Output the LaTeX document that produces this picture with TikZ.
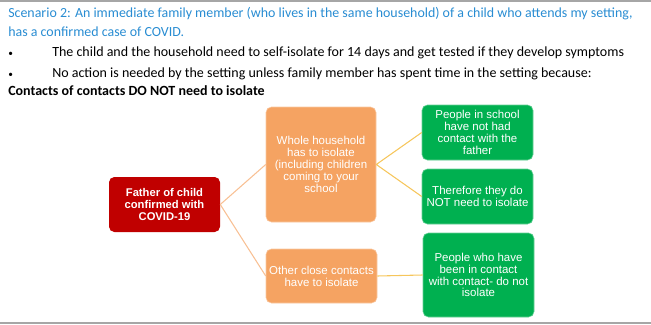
\documentclass[tikz,border=0pt]{standalone}
\usepackage{fontspec}
\setmainfont{Carlito}
\newfontfamily\boxfont{Liberation Sans}
\definecolor{headblue}{RGB}{40,140,210}
\definecolor{boxred}{RGB}{192,0,0}
\definecolor{boxorange}{RGB}{245,163,98}
\definecolor{boxgreen}{RGB}{0,176,80}
\definecolor{linkorange}{RGB}{248,192,148}
\definecolor{linkgold}{RGB}{246,198,92}
\tikzset{
  card/.style={rounded corners=4pt, text=white, align=center, inner sep=1pt,
    font=\boxfont\fontsize{8.6}{8.9}\selectfont},
  redbox/.style={card, fill=boxred, font=\boxfont\bfseries\fontsize{8.4}{9.2}\selectfont},
  orangebox/.style={card, fill=boxorange, draw=boxorange!60!white},
  greenbox/.style={card, fill=boxgreen, draw=boxgreen!60!white},
  line/.style={anchor=base west, inner sep=0pt, font=\fontsize{10.5}{13}\selectfont},
  dot/.style={anchor=base west, inner sep=0pt, font=\fontsize{7}{9}\selectfont}
}
\begin{document}
\begin{tikzpicture}[x=0.75pt,y=-0.75pt]
\useasboundingbox (0,0) rectangle (651,325);
\draw[line width=1.5pt, black!35] (0,1) -- (651,1);
\draw[line width=1.5pt, black!35] (0,323) -- (651,323);

% heading and bullets
\node[line, text=headblue, font=\fontsize{10.45}{13}\selectfont] (t1) at (8,17) {Scenario 2: An immediate family member (who lives in the same household) of a child who attends my setting,};
\node[line, text=headblue, font=\fontsize{10.45}{13}\selectfont] (t2) at (8,36) {has a confirmed case of COVID.};
\node[dot] (b1) at (8,56) {•};
\node[line] (l1) at (52,56) {The child and the household need to self-isolate for 14 days and get tested if they develop symptoms};
\node[dot] (b2) at (8,77) {•};
\node[line] (l2) at (52,77) {No action is needed by the setting unless family member has spent time in the setting because:};
\node[line, font=\bfseries\fontsize{10.5}{13}\selectfont] (t3) at (8,95) {Contacts of contacts DO NOT need to isolate};

% boxes
\node[redbox, minimum width=83.25pt, minimum height=41.25pt] (father) at (164.5,204.5)
  {Father of child\\confirmed with\\COVID-19};
\node[orangebox, minimum width=82.5pt, minimum height=86.25pt] (house) at (321,164.5)
  {Whole household\\has to isolate\\(including children\\coming to your\\school};
\node[orangebox, minimum width=83.25pt, minimum height=40.5pt] (close) at (321.5,276)
  {Other close contacts\\have to isolate};
\node[greenbox, minimum width=83.25pt, minimum height=41.25pt] (school) at (477.5,132.5)
  {People in school\\have not had\\contact with the\\father};
\node[greenbox, minimum width=83.25pt, minimum height=41.25pt] (noneed) at (477.5,196.5)
  {Therefore they do\\NOT need to isolate};
\node[greenbox, minimum width=83.25pt, minimum height=63pt] (contact) at (478.5,275)
  {People who have\\been in contact\\with contact- do not\\isolate};

% connectors
\draw[linkorange, line width=0.8pt] (father.east) -- (house.west)
                                    (father.east) -- (close.west);
\draw[linkgold, line width=0.8pt] (house.east) -- (school.west)
                                  (house.east) -- (noneed.west)
                                  (close.east) -- (contact.west);
\end{tikzpicture}
\end{document}
